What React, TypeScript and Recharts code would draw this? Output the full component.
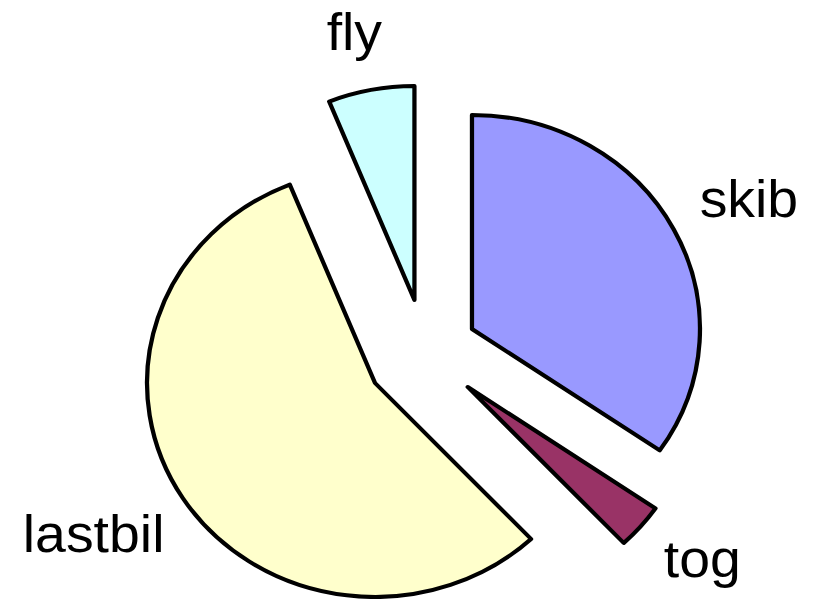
import React from "react";
import { PieChart, Pie, Cell } from "recharts";

const categories = ["skib", "tog", "lastbil", "fly"];
const shares = [34.6, 3.4, 55.9, 6.1];
const colors = ["#9999FF", "#993366", "#FFFFCC", "#CCFFFF"];

// exploded pie: every slice is pulled out on its own, so each gets a centre
const sliceCenters = [
  { cx: 443, cy: 329 },
  { cx: 439, cy: 387 },
  { cx: 352, cy: 383 },
  { cx: 389, cy: 300 },
];
const labelOffsets = [77, 65, 90, 60];
// small turn (clockwise, degrees) of each label off its slice's middle
const labelTurns = [1, -2.8, 2.9, -0.9];

const data = categories.map((name, i) => ({ name, value: shares[i] }));

// the reference is a bit wider than tall, so the whole drawing is stretched
const STRETCH = 1.0654;
const W = Math.round(814 / STRETCH);
const H = 599;
const RADIUS = 214;
const RADIAN = Math.PI / 180;

const renderLabel = (target: number) => (props: any) => {
  if (props.index !== target) return null;
  const r = props.outerRadius + labelOffsets[target];
  const a = (props.midAngle - labelTurns[target]) * RADIAN;
  const x = props.cx + r * Math.cos(-a);
  const y = props.cy + r * Math.sin(-a);
  return (
    <text
      x={x}
      y={y}
      textAnchor="middle"
      dominantBaseline="central"
      fill="#000"
      fontSize={52}
      fontFamily="'Liberation Sans', Arial, sans-serif"
    >
      {categories[target]}
    </text>
  );
};

export default function App() {
  return (
    <div
      style={{
        position: "fixed",
        left: 0,
        top: 0,
        width: 814,
        height: 599,
        overflow: "hidden",
        background: "#fff",
      }}
    >
      <div style={{ width: W, height: H, transform: `scaleX(${STRETCH})`, transformOrigin: "0 0" }}>
        <PieChart width={W} height={H} margin={{ top: 0, right: 0, bottom: 0, left: 0 }}>
          {sliceCenters.map((c, target) => (
            <Pie
              key={categories[target]}
              data={data}
              dataKey="value"
              nameKey="name"
              cx={c.cx}
              cy={c.cy}
              outerRadius={RADIUS}
              startAngle={90}
              endAngle={-270}
              stroke="#000"
              strokeWidth={4}
              label={renderLabel(target)}
              labelLine={false}
              isAnimationActive={false}
            >
              {data.map((d, i) => (
                <Cell
                  key={d.name}
                  fill={i === target ? colors[i] : "transparent"}
                  stroke={i === target ? "#000" : "none"}
                  strokeWidth={4}
                  strokeLinejoin="round"
                />
              ))}
            </Pie>
          ))}
        </PieChart>
      </div>
    </div>
  );
}
